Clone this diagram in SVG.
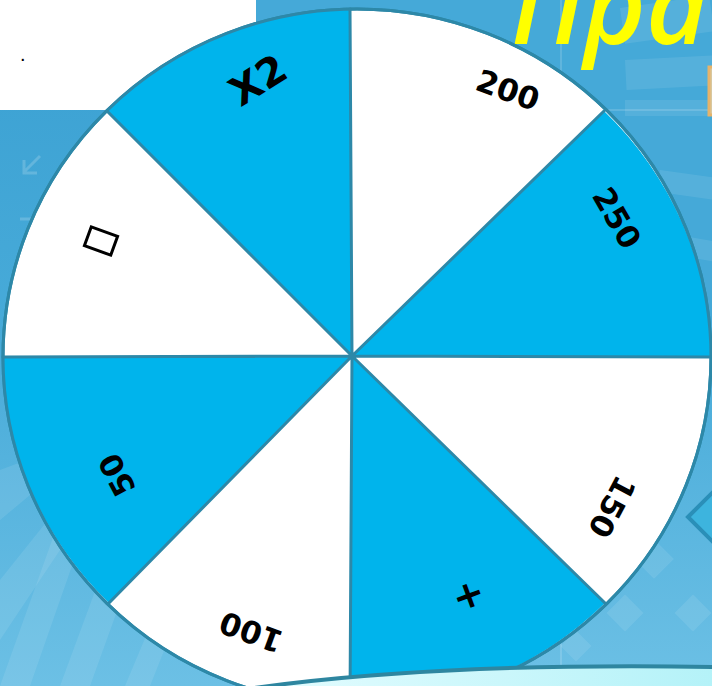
<svg xmlns="http://www.w3.org/2000/svg" width="712" height="686" viewBox="0 0 712 686">
  <defs>
    <linearGradient id="bg" x1="0" y1="0" x2="0" y2="1">
      <stop offset="0" stop-color="#3aa0d2"/>
      <stop offset="0.5" stop-color="#48abd9"/>
      <stop offset="1" stop-color="#6cc0e5"/>
    </linearGradient>
    <linearGradient id="band" x1="0" y1="0" x2="1" y2="0">
      <stop offset="0" stop-color="#e6fdff"/>
      <stop offset="1" stop-color="#b4f2f8"/>
    </linearGradient>
    <style>
      .blue { fill: #00b4ec; }
      .rim { fill: #ffffff; stroke: #2d88a8; stroke-width: 3; }
      .div { stroke: #2d88a8; stroke-width: 3; fill: none; stroke-linecap: round; }
      .lbl { font-family: "DejaVu Sans", "Liberation Sans", sans-serif; font-weight: bold; fill: #000000; text-anchor: middle; dominant-baseline: central; }
      .ray { fill: #ffffff; opacity: 0.09; }
      .faint { fill: none; stroke: #ffffff; opacity: 0.18; stroke-width: 3; }
    </style>
  </defs>

  <!-- background -->
  <rect x="0" y="0" width="712" height="686" fill="url(#bg)"/>
  <rect x="256" y="0" width="456" height="360" fill="#45a9d8"/>
  <g id="stripes">
    <polygon class="ray" points="0,686 30,686 95,500 70,490"/>
    <polygon class="ray" points="60,686 90,686 150,520 125,510"/>
    <polygon class="ray" points="125,686 150,686 200,560 180,555"/>
    <polygon class="ray" points="0,470 0,520 60,470 40,455"/>
    <polygon class="ray" points="0,580 0,640 80,520 60,505"/>
    <rect class="ray" x="625" y="60" width="90" height="30" transform="rotate(-3 625 60)"/>
    <rect class="ray" x="625" y="100" width="90" height="16"/>
    <rect class="ray" x="620" y="8" width="90" height="36" transform="rotate(-8 620 8)"/>
    <rect class="ray" x="660" y="170" width="60" height="22" transform="rotate(8 660 170)"/>
    <rect class="ray" x="650" y="230" width="70" height="20" transform="rotate(10 650 230)"/>
    <rect class="ray" x="640" y="545" width="28" height="28" transform="rotate(45 654 559)"/>
    <rect class="ray" x="612" y="600" width="26" height="26" transform="rotate(45 625 613)"/>
    <rect class="ray" x="565" y="635" width="22" height="22" transform="rotate(45 576 646)"/>
    <rect class="ray" x="680" y="600" width="26" height="26" transform="rotate(45 693 613)"/>
    <line x1="561" y1="0" x2="561" y2="686" stroke="#ffffff" stroke-opacity="0.15" stroke-width="2"/>
    <line x1="561" y1="110" x2="712" y2="110" stroke="#ffffff" stroke-opacity="0.15" stroke-width="2"/>
    <path class="faint" d="M40 156 L24 172 M24 160 L24 173 L37 173"/>
    <path class="faint" d="M20 219 L40 219"/>
  </g>
  <rect x="0" y="0" width="256" height="110" fill="#ffffff"/>
  <text x="20" y="61" font-family="Liberation Sans, sans-serif" font-size="20" fill="#000000">.</text>

  <!-- title -->
  <text x="511" y="44" font-family="Open Sans, DejaVu Sans, sans-serif" font-style="italic" font-weight="600" font-size="106" fill="#ffff00">Прав</text>
  <rect x="709" y="67" width="20" height="48" fill="#d8c8a0" stroke="#e6b36a" stroke-width="3"/>
  <polygon points="688,517 730,475 772,517 730,559" fill="#3db4de" stroke="#2a8fb8" stroke-width="4"/>

  <!-- wheel -->
  <g id="wheel">
    <ellipse class="rim" cx="357" cy="357" rx="354" ry="348"/>
    <path class="blue" d="M352,356 L107,111 A354,348 0 0 1 350,9 Z"/>
    <path class="blue" d="M352,356 L604,111 A354,348 0 0 1 711,357 Z"/>
    <path class="blue" d="M352,356 L605,603 A354,348 0 0 1 350,705 Z"/>
    <path class="blue" d="M352,356 L109,603 A354,348 0 0 1 3,357 Z"/>
    <ellipse cx="357" cy="357" rx="354" ry="348" fill="none" stroke="#2d88a8" stroke-width="3"/>
  </g>
  <g id="dividers">
    <path class="div" d="M352,356 L350,9 M352,356 L604,111 M352,356 L711,357 M352,356 L605,603 M352,356 L350,705 M352,356 L109,603 M352,356 L3,357 M352,356 L107,111"/>
  </g>

  <g id="labels">
    <g id="s-x2"><text class="lbl" font-size="40" transform="translate(258,80) rotate(-32)">X2</text></g>
    <g id="s-200"><text class="lbl" font-size="31" transform="translate(508,90) rotate(20)">200</text></g>
    <g id="s-250"><text class="lbl" font-size="31" transform="translate(617,218) rotate(60)">250</text></g>
    <g id="s-150"><text class="lbl" font-size="31" transform="translate(612,507) rotate(118)">150</text></g>
    <g id="s-plus"><text class="lbl" font-size="38" transform="translate(469,597) rotate(160)">+</text></g>
    <g id="s-100"><text class="lbl" font-size="31" transform="translate(251,632) rotate(200)">100</text></g>
    <g id="s-50"><text class="lbl" font-size="31" transform="translate(117,475) rotate(242)">50</text></g>
    <g id="s-box"><rect x="-14" y="-10" width="28" height="20" fill="none" stroke="#000000" stroke-width="3" transform="translate(101,241) rotate(20)"/></g>
  </g>

  <!-- bottom band -->
  <path d="M240,690 Q430,662 716,667 L716,690 Z" fill="url(#band)" stroke="#2e86a0" stroke-width="4"/>
</svg>
